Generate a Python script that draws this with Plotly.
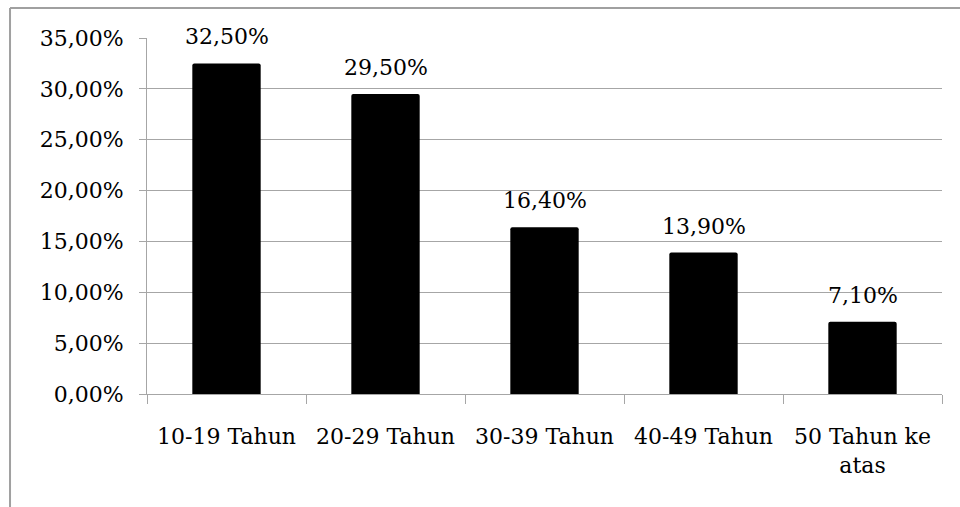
import plotly.graph_objects as go

categories = ["10-19 Tahun", "20-29 Tahun", "30-39 Tahun", "40-49 Tahun", "50 Tahun ke<br>atas"]
values = [32.5, 29.5, 16.4, 13.9, 7.1]
tick_vals = [0, 5, 10, 15, 20, 25, 30, 35]
tick_text = ["0,00%", "5,00%", "10,00%", "15,00%", "20,00%", "25,00%", "30,00%", "35,00%"]
labels = [f"{v:.2f}".replace(".", ",") + "%" for v in values]

FONT = "DejaVu Serif"
GRID = "#a6a6a6"

fig = go.Figure()
fig.add_trace(go.Bar(
    x=categories, y=values,
    marker=dict(color="black", line=dict(width=0), cornerradius=2),
    width=0.43,
    hoverinfo="skip",
))

for c, v, t in zip(categories, values, labels):
    fig.add_annotation(x=c, y=v, text=t, showarrow=False, yanchor="bottom",
                       yshift=12, font=dict(family=FONT, size=22, color="black"))

fig.update_layout(
    width=960, height=507,
    margin=dict(l=147, r=18, t=38, b=113),
    paper_bgcolor="white", plot_bgcolor="white",
    showlegend=False,
    font=dict(family=FONT, size=22, color="black"),
    bargap=0.57,
)
fig.update_xaxes(
    type="category",
    tickson="boundaries",
    ticks="outside", ticklen=9, tickcolor=GRID, tickwidth=1,
    showline=True, linecolor=GRID, linewidth=1,
    showgrid=False,
    tickfont=dict(family=FONT, size=22, color="black"),
    ticklabelstandoff=23,
)
fig.update_yaxes(
    range=[0, 35],
    tickvals=tick_vals, ticktext=tick_text,
    ticks="outside", ticklen=7, tickcolor=GRID, tickwidth=1,
    showline=True, linecolor=GRID, linewidth=1,
    showgrid=True, gridcolor=GRID, gridwidth=1,
    zeroline=False,
    tickfont=dict(family=FONT, size=22, color="black"),
    ticklabelstandoff=11,
)

fig.add_shape(type="line", xref="paper", yref="paper",
              x0=-0.1723, x1=1.05, y0=1.0843, y1=1.0843,
              line=dict(color="#a0a0a0", width=2))
fig.add_shape(type="line", xref="paper", yref="paper",
              x0=-0.1723, x1=-0.1723, y0=1.0843, y1=-0.35,
              line=dict(color="#a0a0a0", width=2))

fig.write_html("out.html")
